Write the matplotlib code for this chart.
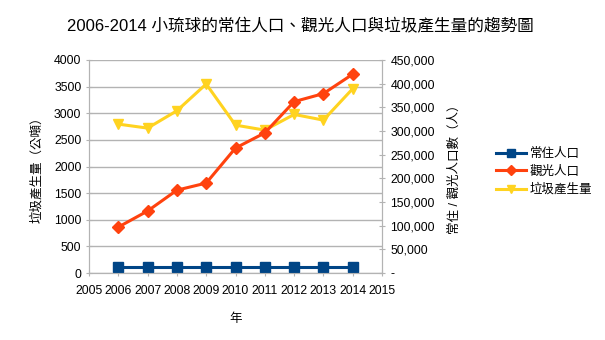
import matplotlib
matplotlib.use("Agg")
import matplotlib.pyplot as plt
from matplotlib.ticker import FuncFormatter, MultipleLocator

plt.rcParams["font.family"] = ["Liberation Sans", "Noto Sans CJK TC", "DejaVu Sans"]

years = [2006, 2007, 2008, 2009, 2010, 2011, 2012, 2013, 2014]
residents = [12600, 12600, 12600, 12600, 12600, 12600, 12600, 12600, 12600]
tourists = [97000, 131000, 175000, 190000, 264000, 296000, 362000, 379000, 420000]
garbage = [2796, 2721, 3047, 3549, 2777, 2683, 2978, 2871, 3461]

title = "2006-2014 小琉球的常住人口、觀光人口與垃圾產生量的趨勢圖"
labels = ["常住人口", "觀光人口", "垃圾產生量"]

BLUE = "#004586"
ORANGE = "#ff420e"
YELLOW = "#ffd320"
GRID = "#b3b3b3"

fig = plt.figure(figsize=(6.05, 3.4), dpi=100)
ax = fig.add_axes([89 / 605, 1 - 273 / 340, 293 / 605, 213 / 340])
ax2 = ax.twinx()

l3, = ax.plot(years, garbage, color=YELLOW, lw=2.2, marker="v", ms=7.5, label=labels[2])
l1, = ax2.plot(years, residents, color=BLUE, lw=2.2, marker="s", ms=7, label=labels[0])
l2, = ax2.plot(years, tourists, color=ORANGE, lw=2.2, marker="D", ms=6, label=labels[1])

ax.set_xlim(2005, 2015)
ax.set_ylim(0, 4000)
ax2.set_ylim(0, 450000)
ax.xaxis.set_major_locator(MultipleLocator(1))
ax.yaxis.set_major_locator(MultipleLocator(500))
ax2.yaxis.set_major_locator(MultipleLocator(50000))
ax2.yaxis.set_major_formatter(FuncFormatter(lambda v, p: "-" if v == 0 else f"{int(v):,}"))

ax.grid(axis="y", color=GRID, lw=1)
ax.set_axisbelow(True)
for a in (ax, ax2):
    for s in a.spines.values():
        s.set_color(GRID)
    a.spines["top"].set_visible(False)
ax.tick_params(axis="both", colors=GRID, labelcolor="black", labelsize=8.8, length=4, direction="inout")
ax2.tick_params(axis="y", colors=GRID, labelcolor="black", labelsize=8.8, length=5, direction="inout")
ax.tick_params(axis="x", pad=7)

ax.set_xlabel("年", fontsize=9, labelpad=11)
ax.set_ylabel("垃圾產生量（公噸）", fontsize=9, labelpad=8)
ax2.set_ylabel("常住 / 觀光人口數（人）", fontsize=9, rotation=90, labelpad=10)

fig.suptitle(title, fontsize=12, x=0.497, y=0.945)

fig.legend(handles=[l1, l2, l3], labels=labels, loc="center left",
           bbox_to_anchor=(485 / 605, 1 - 172 / 340), frameon=False,
           fontsize=9, handlelength=2.4, handletextpad=0.3, labelspacing=0.45,
           markerscale=0.8)

fig.savefig("out.png", dpi=100)
